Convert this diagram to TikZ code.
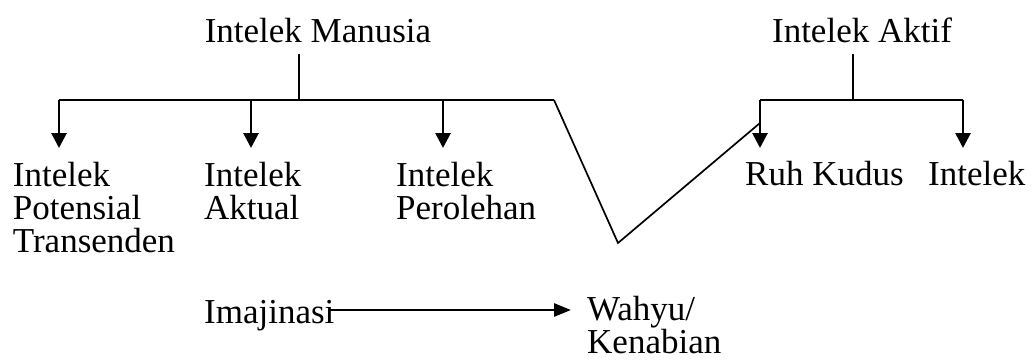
\documentclass[tikz,border=0pt]{standalone}
\usepackage{fontspec}
\setmainfont{Liberation Serif}
\usetikzlibrary{arrows.meta}
\begin{document}
\begin{tikzpicture}[x=1pt,y=-1pt,
  lbl/.style={inner sep=0pt,anchor=base west,align=left,font=\fontsize{35}{33}\selectfont},
  ttl/.style={inner sep=0pt,anchor=base,font=\fontsize{35}{33.5}\selectfont},
  thin/.style={line width=1.7pt},
  thick/.style={line width=2.8pt},
  darr/.style={thick,-{Triangle[length=15pt,width=15pt]}},
  harr/.style={thick,-{Triangle[length=17pt,width=13pt]}}]
\useasboundingbox (0,0) rectangle (1032,361);
% titles
\node[ttl] (im) at (318,42) {Intelek Manusia};
\node[ttl] (ia) at (862,42) {Intelek Aktif};
% junction coordinates
\coordinate (s1) at (299,54);
\coordinate (j1) at (299,100);
\coordinate (b1l) at (59,100);
\coordinate (b1r) at (554,100);
\coordinate (v) at (618,243);
\coordinate (r1) at (760,123);
\coordinate (s2) at (853,54);
\coordinate (j2) at (853,100);
\coordinate (b2l) at (760,100);
\coordinate (b2r) at (963,100);
\coordinate (a1) at (59,148);
\coordinate (a2) at (251,148);
\coordinate (a3) at (443,148);
\coordinate (a4) at (760,148);
\coordinate (a5) at (963,148);
\coordinate (t2) at (251,100);
\coordinate (t3) at (443,100);
% labels (base = baseline of last line)
\node[lbl] (l1) at (12.7,252) {Intelek\\Potensial\\Transenden};
\node[lbl] (l2) at (204,219) {Intelek\\Aktual};
\node[lbl] (l3) at (396,219) {Intelek\\Perolehan};
\node[lbl] (l4) at (745,185) {Ruh Kudus};
\node[lbl] (l5) at (928,185) {Intelek};
\node[lbl] (img) at (204,323) {Imajinasi};
\node[lbl] (wk) at (587,353) {Wahyu/\\Kenabian};
% connectors
\draw[thin] (s1) -- (j1);
\draw[thin] (s2) -- (j2);
\draw[thick] (b1l) -- (b1r);
\draw[thin,line join=miter] (b1r) -- (v) -- (r1);
\draw[thick] (b2l) -- (b2r);
\draw[darr] (b1l) -- (a1);
\draw[darr] (t2) -- (a2);
\draw[darr] (t3) -- (a3);
\draw[darr] (b2l) -- (a4);
\draw[darr] (b2r) -- (a5);
\draw[harr] (330,310) -- (571,310);
\end{tikzpicture}
\end{document}
